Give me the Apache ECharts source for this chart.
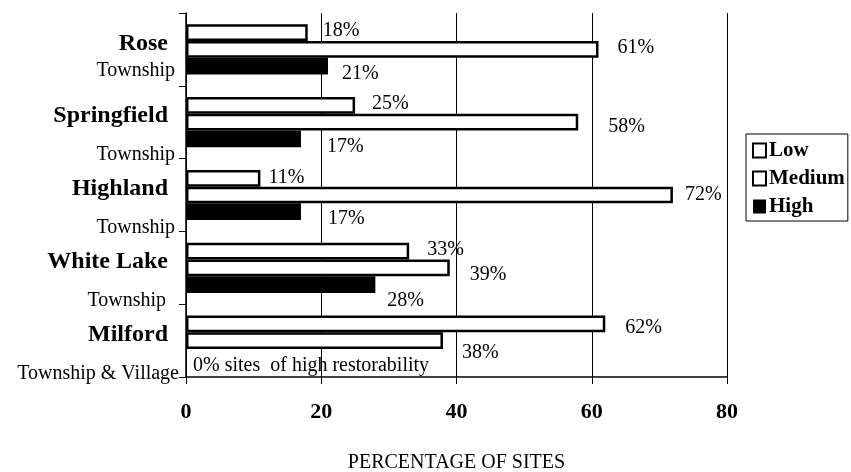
<!DOCTYPE html>
<html>
<head>
<meta charset="utf-8">
<script src="https://cdn.jsdelivr.net/npm/echarts@6/dist/echarts.min.js"></script>
<style>
  html, body { margin: 0; padding: 0; background: #fff; }
  #chart { width: 851px; height: 472px; }
</style>
</head>
<body>
<div id="chart"></div>
<script>
// Restorability of sites by community (percentage of sites)
const communities = ['Rose', 'Springfield', 'Highland', 'White Lake', 'Milford'];
const communityTypes = ['Township', 'Township', 'Township', 'Township', 'Township & Village'];
const seriesNames = ['Low', 'Medium', 'High'];
const lowPct = [18, 25, 11, 33, 62];
const mediumPct = [61, 58, 72, 39, 38];
const highPct = [21, 17, 17, 28, 0];
const axisMax = 80;
const axisStep = 20;
const axisTitle = 'PERCENTAGE OF SITES';

// Small label nudges [dx, dy] so value labels sit clear of the grid lines
const lowNudge = [[15, -2], [17, -2], [8, -1], [18, -1], [20, 4]];
const mediumNudge = [[19, -2], [30, 5], [12, 0], [20, 7], [19, 12]];
const highNudge = [[14, 8], [26, 8], [27, 7], [12, 16], [7, 8]];

const SERIF = '"Liberation Serif", "Times New Roman", serif';

function withNudges(values, nudges) {
  return values.map((v, i) => ({ value: v, label: { offset: nudges[i] } }));
}

// Rich-text styles per community: Rose's two lines sit closer together,
// White Lake's second line stands further from the axis
const nameStyleKey = ['nameTop', 'name', 'name', 'name', 'name'];
const subStyleKey = ['subTop', 'sub', 'sub', 'subWide', 'subLong'];

const valueLabel = {
  show: true,
  position: 'right',
  distance: 0,
  color: '#000',
  fontFamily: SERIF,
  fontSize: 20,
  formatter: p => p.value + '%'
};

const nameBase = { fontFamily: SERIF, fontWeight: 'bold', fontSize: 24, color: '#000', padding: [0, 11, 0, 0] };
const subBase = { fontFamily: SERIF, fontSize: 20, color: '#000' };

const option = {
  backgroundColor: '#fff',
  animation: false,
  grid: { left: 186, right: 124, top: 13, bottom: 95, containLabel: false, outerBoundsMode: 'none' },
  legend: {
    data: seriesNames,
    orient: 'vertical',
    left: 746,
    top: 134,
    itemWidth: 13,
    itemHeight: 14,
    itemGap: 5,
    padding: [5, 3, 3, 6],
    borderColor: '#000',
    borderWidth: 1,
    borderRadius: 0,
    icon: 'rect',
    textStyle: {
      color: '#000',
      fontFamily: SERIF,
      fontWeight: 'bold',
      fontSize: 21,
      lineHeight: 23,
      padding: [0, 0, 0, -2]
    }
  },
  xAxis: {
    type: 'value',
    min: 0,
    max: axisMax,
    interval: axisStep,
    name: axisTitle,
    nameLocation: 'middle',
    nameGap: 76,
    nameTextStyle: { color: '#000', fontFamily: SERIF, fontSize: 20 },
    axisLine: { show: true, lineStyle: { color: '#000', width: 1.5 } },
    axisTick: { show: true, length: 7, lineStyle: { color: '#000', width: 1 } },
    axisLabel: {
      color: '#000',
      fontFamily: SERIF,
      fontWeight: 'bold',
      fontSize: 22,
      margin: 24
    },
    splitLine: { show: true, lineStyle: { color: '#000', width: 1 } }
  },
  yAxis: {
    type: 'category',
    inverse: true,
    data: communities,
    axisLine: { show: true, lineStyle: { color: '#000', width: 1.5 } },
    axisTick: { show: true, length: 7, lineStyle: { color: '#000', width: 1 } },
    axisLabel: {
      margin: 7,
      padding: [30, 0, 0, 0],
      formatter: (value, index) =>
        '{' + nameStyleKey[index] + '|' + value + '}\n{' + subStyleKey[index] + '|' + communityTypes[index] + '}',
      rich: {
        name: Object.assign({}, nameBase, { lineHeight: 36 }),
        nameTop: Object.assign({}, nameBase, { lineHeight: 12 }),
        sub: Object.assign({}, subBase, { lineHeight: 42, padding: [0, 4, 0, 0] }),
        subTop: Object.assign({}, subBase, { lineHeight: 42, padding: [0, 4, 0, 0] }),
        subWide: Object.assign({}, subBase, { lineHeight: 42, padding: [0, 13, 0, 0] }),
        subLong: Object.assign({}, subBase, { lineHeight: 42, padding: [0, 0, 0, 0] })
      }
    },
    splitLine: { show: false }
  },
  series: [
    {
      name: seriesNames[0],
      type: 'bar',
      barGap: '0%',
      barCategoryGap: '31%',
      itemStyle: { color: '#fff', borderColor: '#000', borderWidth: 2.5 },
      label: valueLabel,
      data: withNudges(lowPct, lowNudge)
    },
    {
      name: seriesNames[1],
      type: 'bar',
      barGap: '0%',
      barCategoryGap: '31%',
      itemStyle: { color: '#fff', borderColor: '#000', borderWidth: 2.5 },
      label: valueLabel,
      data: withNudges(mediumPct, mediumNudge)
    },
    {
      name: seriesNames[2],
      type: 'bar',
      barGap: '0%',
      barCategoryGap: '31%',
      itemStyle: { color: '#000' },
      label: Object.assign({}, valueLabel, {
        formatter: p => p.value === 0
          ? p.value + '% sites  of high restorability'
          : p.value + '%'
      }),
      data: withNudges(highPct, highNudge)
    }
  ]
};

const chart = echarts.init(document.getElementById('chart'), null, { renderer: 'canvas' });
chart.setOption(option);
</script>
</body>
</html>
